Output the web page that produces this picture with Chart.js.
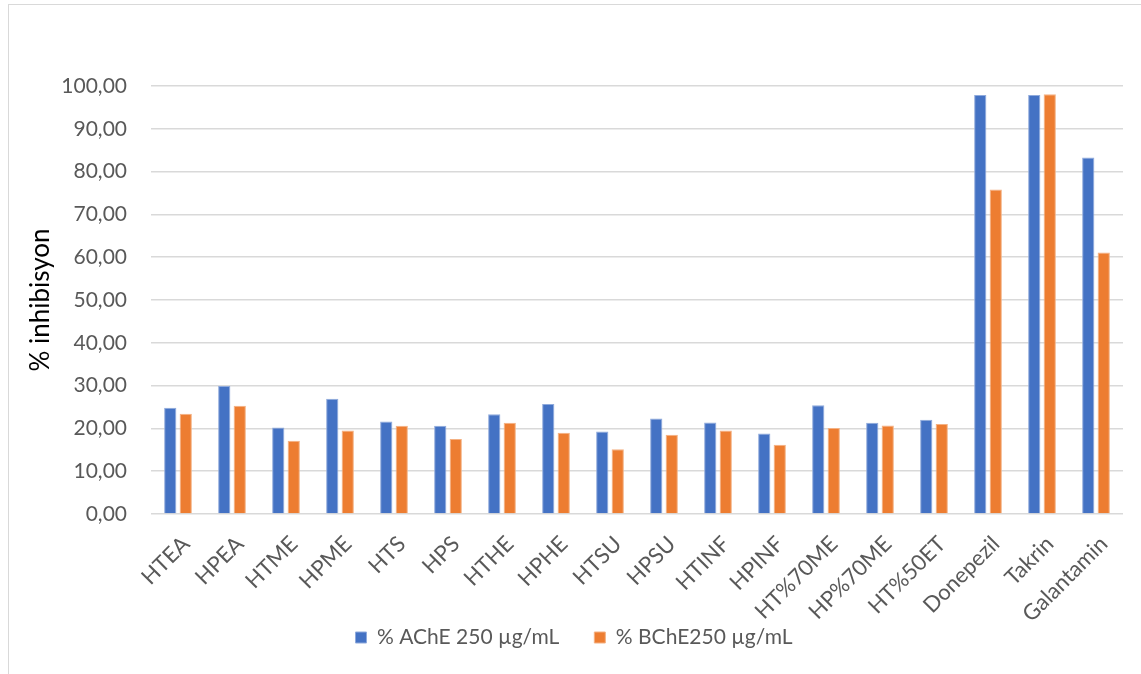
<!DOCTYPE html>
<html>
<head>
<meta charset="utf-8">
<script src="https://cdn.jsdelivr.net/npm/chart.js@4"></script>
<style>
  html, body { margin: 0; padding: 0; background: #fff; overflow: hidden; }
  #wrap { position: relative; width: 1141px; height: 674px; }
  #frame { position: absolute; left: 8px; top: 4px; width: 1200px; height: 700px;
           border-left: 1.5px solid #d9d9d9; border-top: 1.5px solid #d9d9d9; pointer-events: none; }
  canvas { position: absolute; left: 0; top: 0; }
</style>
</head>
<body>
<div id="wrap">
  <canvas id="c" width="1141" height="674"></canvas>
  <div id="frame"></div>
</div>
<script>
// Extract codes and reference inhibitors
const categories = ['HTEA', 'HPEA', 'HTME', 'HPME', 'HTS', 'HPS', 'HTHE', 'HPHE', 'HTSU', 'HPSU',
                    'HTINF', 'HPINF', 'HT%70ME', 'HP%70ME', 'HT%50ET', 'Donepezil', 'Takrin', 'Galantamin'];

// % inhibition at 250 µg/mL
const ache = [24.8, 29.9, 20.2, 26.9, 21.6, 20.6, 23.3, 25.7, 19.3, 22.3,
              21.4, 18.8, 25.4, 21.3, 22.0, 97.9, 97.9, 83.3];
const bche = [23.4, 25.3, 17.1, 19.5, 20.6, 17.5, 21.3, 19.0, 15.1, 18.5,
              19.5, 16.2, 20.1, 20.7, 21.0, 75.8, 98.1, 61.1];

const seriesNames = ['% AChE 250 µg/mL', '% BChE250 µg/mL'];
const yTicks = { min: 0, max: 100, step: 10 };

const FONT = 'Lato, "Open Sans", sans-serif';

new Chart(document.getElementById('c'), {
  type: 'bar',
  data: {
    labels: categories,
    datasets: [
      { label: seriesNames[0], data: ache, backgroundColor: '#4472C4',
        borderColor: '#8FAADC', borderWidth: 1 },
      { label: seriesNames[1], data: bche, backgroundColor: '#ED7D31',
        borderColor: '#F4B183', borderWidth: 1 }
    ]
  },
  options: {
    responsive: false,
    animation: false,
    events: [],
    categoryPercentage: 0.574,
    barPercentage: 0.79,
    layout: { padding: { top: 86, left: 25, right: 18, bottom: 16 } },
    plugins: {
      tooltip: { enabled: false },
      legend: {
        position: 'bottom',
        labels: {
          color: '#595959',
          font: { family: FONT, size: 21 },
          boxWidth: 11,
          boxHeight: 11,
          padding: 35
        }
      }
    },
    scales: {
      x: {
        grid: { display: false },
        border: { display: false },
        ticks: {
          color: '#595959',
          font: { family: FONT, size: 22 },
          minRotation: 45,
          maxRotation: 45,
          autoSkip: false,
          padding: 9,
          labelOffset: 8
        },
        afterFit: (s) => {
          s.height = 78;
          // let the slanted category names run past the axis box instead of being cut
          s._computeLabelArea = () => undefined;
        }
      },
      y: {
        min: yTicks.min,
        max: yTicks.max,
        border: { display: false },
        grid: { color: '#d9d9d9', lineWidth: 1.5, drawTicks: false },
        ticks: {
          stepSize: yTicks.step,
          color: '#595959',
          font: { family: FONT, size: 21 },
          padding: 24,
          callback: (v) => v.toFixed(2).replace('.', ',')
        },
        title: {
          display: true,
          text: '% inhibisyon',
          color: '#000000',
          font: { family: FONT, size: 26 },
          padding: { top: 0, bottom: 0 }
        },
        afterFit: (s) => { s.width = 126; }
      }
    }
  }
});
</script>
</body>
</html>
